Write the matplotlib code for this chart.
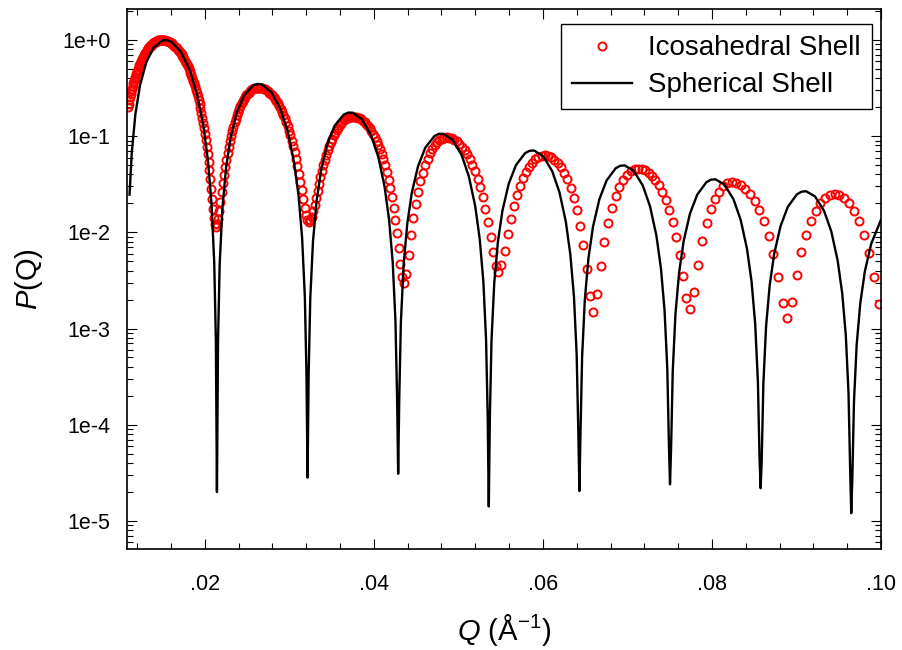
import numpy as np
import matplotlib
matplotlib.use("Agg")
import matplotlib.pyplot as plt
from matplotlib.ticker import LogLocator, MultipleLocator, NullFormatter

# spherical shell form factor (black line)
q_sphere = [
    0.011100, 0.011363, 0.011792, 0.012328, 0.013078, 0.013936, 0.015008, 0.015544, 0.016080,
    0.017152, 0.018224, 0.019082, 0.019832, 0.020368, 0.020797, 0.021118, 0.021311, 0.021440,
    0.021569, 0.021762, 0.022083, 0.022512, 0.023048, 0.023798, 0.024656, 0.025728, 0.026264,
    0.026800, 0.027872, 0.028944, 0.029802, 0.030552, 0.031088, 0.031517, 0.031838, 0.032031, 0.032160,
    0.032289, 0.032482, 0.032803, 0.033232, 0.033768, 0.034518, 0.035376, 0.036448, 0.036984,
    0.037520, 0.038592, 0.039664, 0.040522, 0.041272, 0.041808, 0.042237, 0.042558, 0.042751, 0.042880,
    0.043009, 0.043202, 0.043523, 0.043952, 0.044488, 0.045238, 0.046096, 0.047168, 0.047704,
    0.048240, 0.049312, 0.050384, 0.051242, 0.051992, 0.052528, 0.052957, 0.053278, 0.053471, 0.053600,
    0.053729, 0.053922, 0.054243, 0.054672, 0.055208, 0.055958, 0.056816, 0.057888, 0.058424,
    0.058960, 0.060032, 0.061104, 0.061962, 0.062712, 0.063248, 0.063677, 0.063998, 0.064191, 0.064320,
    0.064449, 0.064642, 0.064963, 0.065392, 0.065928, 0.066678, 0.067536, 0.068608, 0.069144,
    0.069680, 0.070752, 0.071824, 0.072682, 0.073432, 0.073968, 0.074397, 0.074718, 0.074911, 0.075040,
    0.075169, 0.075362, 0.075683, 0.076112, 0.076648, 0.077398, 0.078256, 0.079328, 0.079864,
    0.080400, 0.081472, 0.082544, 0.083402, 0.084152, 0.084688, 0.085117, 0.085438, 0.085631, 0.085760,
    0.085889, 0.086082, 0.086403, 0.086832, 0.087368, 0.088118, 0.088976, 0.090048, 0.090584,
    0.091120, 0.092192, 0.093264, 0.094122, 0.094872, 0.095408, 0.095837, 0.096158, 0.096351, 0.096480,
    0.096609, 0.096802, 0.097123, 0.097552, 0.098088, 0.098838, 0.100000,
]
log_p_sphere = [
    -1.608, -1.173, -0.771, -0.475, -0.232, -0.080, -0.004, -0.002, -0.020,
    -0.120, -0.313, -0.560, -0.888, -1.246, -1.698, -2.310, -3.112, -4.70,
    -3.122, -2.336, -1.751, -1.333, -1.019, -0.752, -0.576, -0.472, -0.457,
    -0.464, -0.542, -0.715, -0.947, -1.264, -1.613, -2.059, -2.667, -3.466, -4.55,
    -3.473, -2.684, -2.094, -1.671, -1.351, -1.075, -0.889, -0.775, -0.755,
    -0.756, -0.824, -0.989, -1.214, -1.525, -1.870, -2.314, -2.919, -3.717, -4.51,
    -3.722, -2.932, -2.340, -1.914, -1.590, -1.310, -1.119, -0.999, -0.976,
    -0.975, -1.037, -1.196, -1.418, -1.726, -2.069, -2.510, -3.114, -3.911, -4.85,
    -3.915, -3.124, -2.531, -2.103, -1.778, -1.495, -1.301, -1.177, -1.152,
    -1.149, -1.208, -1.364, -1.583, -1.888, -2.230, -2.670, -3.273, -4.070, -4.69,
    -4.083, -3.292, -2.698, -2.269, -1.942, -1.657, -1.461, -1.334, -1.308,
    -1.304, -1.361, -1.514, -1.732, -2.035, -2.376, -2.815, -3.418, -4.214, -4.62,
    -4.237, -3.445, -2.850, -2.421, -2.093, -1.806, -1.609, -1.480, -1.453,
    -1.448, -1.503, -1.655, -1.871, -2.174, -2.513, -2.952, -3.554, -4.350, -4.66,
    -4.368, -3.576, -2.980, -2.550, -2.221, -1.934, -1.735, -1.605, -1.578,
    -1.572, -1.626, -1.776, -1.991, -2.293, -2.632, -3.070, -3.672, -4.467, -4.92,
    -4.555, -3.763, -3.167, -2.736, -2.407, -2.119, -1.870,
]

# icosahedral shell (red open circles)
q_icosa = [
    # lobe 1
    0.01093, 0.01101, 0.01109, 0.01117, 0.01124, 0.01132, 0.01140, 0.01148, 0.01156, 0.01163,
    0.01171, 0.01179, 0.01187, 0.01194, 0.01202, 0.01210, 0.01218, 0.01226, 0.01233, 0.01241,
    0.01249, 0.01257, 0.01264, 0.01272, 0.01280, 0.01288, 0.01296, 0.01303, 0.01311, 0.01319,
    0.01327, 0.01334, 0.01342, 0.01350, 0.01358, 0.01366, 0.01373, 0.01381, 0.01389, 0.01397,
    0.01404, 0.01412, 0.01420, 0.01428, 0.01436, 0.01443, 0.01451, 0.01459, 0.01467, 0.01474,
    0.01482, 0.01490,
    0.01501, 0.01511, 0.01522, 0.01533, 0.01543, 0.01554, 0.01565, 0.01575, 0.01586, 0.01597,
    0.01607, 0.01618, 0.01629, 0.01639, 0.01650, 0.01661, 0.01671, 0.01682, 0.01693, 0.01703,
    0.01714, 0.01725, 0.01735, 0.01746, 0.01757, 0.01767, 0.01778, 0.01789, 0.01799, 0.01810,
    0.01821, 0.01831, 0.01842, 0.01853, 0.01863, 0.01874, 0.01885, 0.01895, 0.01906, 0.01917,
    0.01927, 0.01938, 0.01949, 0.01959, 0.01970, 0.01981, 0.01991, 0.02002, 0.02013, 0.02023,
    0.02034, 0.02045, 0.02055, 0.02066, 0.02077, 0.02087, 0.02098, 0.02109, 0.02119, 0.02130,
    # lobe 2
    0.02144, 0.02158, 0.02172, 0.02186, 0.02199, 0.02213, 0.02227, 0.02241, 0.02255, 0.02269,
    0.02283, 0.02297, 0.02311, 0.02324, 0.02338, 0.02352, 0.02366, 0.02380, 0.02394, 0.02408,
    0.02422, 0.02436, 0.02449, 0.02463, 0.02477, 0.02491, 0.02505, 0.02519, 0.02533, 0.02547,
    0.02561, 0.02574, 0.02588, 0.02602, 0.02616, 0.02630,
    0.02647, 0.02663, 0.02680, 0.02697, 0.02713, 0.02730, 0.02747, 0.02764, 0.02780, 0.02797,
    0.02814, 0.02830, 0.02847, 0.02864, 0.02880, 0.02897, 0.02914, 0.02930, 0.02947, 0.02964,
    0.02981, 0.02997, 0.03014, 0.03031, 0.03047, 0.03064, 0.03081, 0.03097, 0.03114, 0.03131,
    0.03148, 0.03164, 0.03181, 0.03198, 0.03214, 0.03231,
    # lobe 3
    0.03248, 0.03266, 0.03283, 0.03300, 0.03318, 0.03335, 0.03352, 0.03369, 0.03387, 0.03404,
    0.03421, 0.03439, 0.03456, 0.03473, 0.03491, 0.03508, 0.03525, 0.03542, 0.03560, 0.03577,
    0.03594, 0.03612, 0.03629, 0.03646, 0.03664, 0.03681, 0.03698, 0.03715, 0.03733, 0.03750,
    0.03770, 0.03790, 0.03810, 0.03831, 0.03851, 0.03871, 0.03891, 0.03911, 0.03932, 0.03952,
    0.03972, 0.03992, 0.04012, 0.04032, 0.04053, 0.04073, 0.04093, 0.04113, 0.04133, 0.04153,
    0.04174, 0.04194, 0.04214, 0.04234, 0.04254, 0.04274, 0.04295, 0.04315, 0.04335, 0.04355,
    # lobe 4
    0.04383, 0.04411, 0.04439, 0.04467, 0.04495, 0.04523, 0.04551, 0.04579, 0.04608, 0.04636,
    0.04664, 0.04692, 0.04720, 0.04748, 0.04776, 0.04804, 0.04832, 0.04860,
    0.04891, 0.04921, 0.04952, 0.04983, 0.05013, 0.05044, 0.05075, 0.05105, 0.05136, 0.05167,
    0.05197, 0.05228, 0.05258, 0.05289, 0.05320, 0.05350, 0.05381, 0.05412, 0.05442, 0.05473,
    # lobe 5
    0.05509, 0.05546, 0.05582, 0.05619, 0.05655, 0.05692, 0.05728, 0.05765, 0.05801, 0.05838,
    0.05874, 0.05911, 0.05947, 0.05984, 0.06020,
    0.06058, 0.06097, 0.06135, 0.06173, 0.06212, 0.06250, 0.06288, 0.06327, 0.06365, 0.06403,
    0.06442, 0.06480, 0.06518, 0.06557, 0.06595,
    # lobe 6
    0.06639, 0.06684, 0.06728, 0.06773, 0.06817, 0.06862, 0.06906, 0.06950, 0.06995, 0.07039,
    0.07084, 0.07128,
    0.07169, 0.07210, 0.07250, 0.07291, 0.07332, 0.07373, 0.07414, 0.07454, 0.07495, 0.07536,
    0.07577, 0.07618, 0.07658, 0.07699, 0.07740,
    # lobe 7
    0.07789, 0.07839, 0.07888, 0.07937, 0.07987, 0.08036, 0.08085, 0.08134, 0.08184, 0.08233,
    0.08288, 0.08343, 0.08397, 0.08452, 0.08507, 0.08562, 0.08616, 0.08671, 0.08726, 0.08781,
    0.08835, 0.08890,
    # lobe 8
    0.08946, 0.09002, 0.09058, 0.09114, 0.09170, 0.09226, 0.09282, 0.09338, 0.09394, 0.09450,
    0.09508, 0.09566, 0.09624, 0.09682, 0.09740, 0.09798, 0.09856, 0.09914, 0.09972,
]
p_icosa = [
    # lobe 1
    0.200, 0.217, 0.235, 0.254, 0.273, 0.292, 0.312, 0.332, 0.353, 0.374,
    0.395, 0.416, 0.438, 0.459, 0.481, 0.503, 0.524, 0.546, 0.567, 0.589,
    0.610, 0.631, 0.652, 0.673, 0.693, 0.713, 0.732, 0.751, 0.770, 0.788,
    0.805, 0.822, 0.839, 0.854, 0.869, 0.884, 0.897, 0.910, 0.922, 0.933,
    0.944, 0.953, 0.962, 0.970, 0.977, 0.983, 0.988, 0.992, 0.996, 0.998,
    1.000, 1.000,
    0.999, 0.997, 0.994, 0.989, 0.983, 0.976, 0.967, 0.957, 0.946, 0.934,
    0.920, 0.906, 0.890, 0.873, 0.855, 0.836, 0.817, 0.796, 0.775, 0.753,
    0.730, 0.707, 0.683, 0.658, 0.634, 0.609, 0.583, 0.557, 0.532, 0.506,
    0.480, 0.454, 0.428, 0.403, 0.378, 0.353, 0.329, 0.305, 0.281, 0.259,
    0.237, 0.215, 0.195, 0.175, 0.156, 0.138, 0.122, 0.106, 0.0912, 0.0777,
    0.0654, 0.0542, 0.0443, 0.0357, 0.0283, 0.0223, 0.0176, 0.0142, 0.0122, 0.0115,
    # lobe 2
    0.0121, 0.0138, 0.0168, 0.0208, 0.0260, 0.0322, 0.0394, 0.0476, 0.0567, 0.0666,
    0.0773, 0.0886, 0.101, 0.113, 0.126, 0.139, 0.152, 0.166, 0.179, 0.193,
    0.206, 0.219, 0.231, 0.243, 0.254, 0.265, 0.275, 0.284, 0.292, 0.299,
    0.306, 0.311, 0.315, 0.318, 0.319, 0.320,
    0.319, 0.318, 0.315, 0.311, 0.306, 0.299, 0.292, 0.284, 0.275, 0.265,
    0.255, 0.243, 0.231, 0.219, 0.206, 0.193, 0.180, 0.166, 0.153, 0.140,
    0.127, 0.114, 0.102, 0.0897, 0.0784, 0.0678, 0.0579, 0.0488, 0.0407, 0.0335,
    0.0273, 0.0222, 0.0181, 0.0152, 0.0135, 0.0129,
    # lobe 3
    0.0133, 0.0145, 0.0165, 0.0193, 0.0228, 0.0269, 0.0318, 0.0372, 0.0432, 0.0497,
    0.0565, 0.0637, 0.0712, 0.0788, 0.0865, 0.0941, 0.102, 0.109, 0.116, 0.123,
    0.130, 0.136, 0.141, 0.146, 0.150, 0.154, 0.156, 0.158, 0.160, 0.160,
    0.160, 0.158, 0.156, 0.153, 0.150, 0.145, 0.140, 0.134, 0.128, 0.121,
    0.113, 0.106, 0.0978, 0.0897, 0.0815, 0.0733, 0.0652, 0.0572, 0.0496, 0.0423,
    0.0354, 0.0290, 0.0232, 0.0180, 0.0135, 0.00979, 0.00684, 0.00472, 0.00343, 0.00300,
    # lobe 4
    0.00371, 0.00583, 0.00930, 0.0140, 0.0198, 0.0265, 0.0339, 0.0418, 0.0500, 0.0582,
    0.0661, 0.0735, 0.0802, 0.0860, 0.0907, 0.0942, 0.0963, 0.0970,
    0.0964, 0.0947, 0.0919, 0.0881, 0.0834, 0.0778, 0.0716, 0.0648, 0.0577, 0.0505,
    0.0432, 0.0361, 0.0293, 0.0231, 0.0175, 0.0128, 0.00897, 0.00618, 0.00447, 0.00390,
    # lobe 5
    0.00455, 0.00646, 0.00954, 0.0137, 0.0187, 0.0243, 0.0304, 0.0365, 0.0426, 0.0482,
    0.0532, 0.0574, 0.0604, 0.0624, 0.0630,
    0.0623, 0.0603, 0.0571, 0.0528, 0.0476, 0.0418, 0.0355, 0.0290, 0.0227, 0.0169,
    0.0117, 0.00737, 0.00416, 0.00217, 0.00150,
    # lobe 6
    0.00226, 0.00448, 0.00802, 0.0126, 0.0180, 0.0238, 0.0295, 0.0349, 0.0395, 0.0430,
    0.0452, 0.0460,
    0.0455, 0.0441, 0.0418, 0.0387, 0.0349, 0.0307, 0.0261, 0.0215, 0.0169, 0.0127,
    0.00895, 0.00584, 0.00352, 0.00209, 0.00160,
    # lobe 7
    0.00237, 0.00460, 0.00807, 0.0124, 0.0173, 0.0222, 0.0265, 0.0300, 0.0322, 0.0330,
    0.0325, 0.0309, 0.0284, 0.0251, 0.0213, 0.0172, 0.0130, 0.00923, 0.00594, 0.00342,
    0.00184, 0.00130,
    # lobe 8
    0.00188, 0.00356, 0.00619, 0.00949, 0.0132, 0.0168, 0.0201, 0.0227, 0.0244, 0.0250,
    0.0244, 0.0227, 0.0201, 0.0168, 0.0131, 0.00942, 0.00611, 0.00347, 0.00178,
]

x_ticks = [0.02, 0.04, 0.06, 0.08, 0.10]
x_tick_labels = [".02", ".04", ".06", ".08", ".10"]
y_ticks = [1e0, 1e-1, 1e-2, 1e-3, 1e-4, 1e-5]
y_tick_labels = ["1e+0", "1e-1", "1e-2", "1e-3", "1e-4", "1e-5"]

plt.rcParams["font.family"] = ["Liberation Sans", "DejaVu Sans"]
plt.rcParams["mathtext.fontset"] = "custom"
plt.rcParams["mathtext.rm"] = "Liberation Sans"
plt.rcParams["mathtext.it"] = "Liberation Sans:italic"

fig = plt.figure(figsize=(9.03, 6.5), dpi=100)
ax = fig.add_axes([127 / 903, 1 - 549 / 650, 754 / 903, 540 / 650])

icosa, = ax.plot(q_icosa, p_icosa, ls="none", marker="o", ms=5.8, mfc="none",
                 mec="#ff0000", mew=1.4, zorder=2)
sphere, = ax.plot(q_sphere, 10.0 ** np.array(log_p_sphere), color="black", lw=1.7, zorder=3)

ax.set_yscale("log")
ax.set_xlim(0.0108, 0.1)
ax.set_ylim(5.1e-6, 2.1)

ax.set_xticks(x_ticks, labels=x_tick_labels)
ax.xaxis.set_minor_locator(MultipleLocator(0.004))
ax.set_yticks(y_ticks, labels=y_tick_labels)
ax.yaxis.set_minor_locator(LogLocator(base=10, subs=np.arange(2, 10)))
ax.yaxis.set_minor_formatter(NullFormatter())

ax.tick_params(which="both", direction="in", top=True, right=True, width=0.8, colors="black")
ax.tick_params(axis="x", which="major", length=7, labelsize=15.5, pad=18)
ax.tick_params(axis="y", which="major", length=7, labelsize=15.5, pad=12)
ax.tick_params(which="minor", length=4)
for side in ax.spines.values():
    side.set_linewidth(1.2)

ax.set_xlabel(r"$Q$ (Å$^{-1}$)", fontsize=21, labelpad=12)
ax.set_ylabel(r"$P$(Q)", fontsize=21, labelpad=12)

leg = ax.legend([icosa, sphere], ["Icosahedral Shell", "Spherical Shell"],
                loc="upper right", bbox_to_anchor=(0.988, 0.972), borderaxespad=0,
                fontsize=20, numpoints=1, handlelength=2.15, handletextpad=0.6,
                borderpad=0.4, labelspacing=0.4, fancybox=False, framealpha=1)
leg.get_frame().set_edgecolor("black")
leg.get_frame().set_linewidth(1.0)

fig.savefig("out.png", dpi=100)
